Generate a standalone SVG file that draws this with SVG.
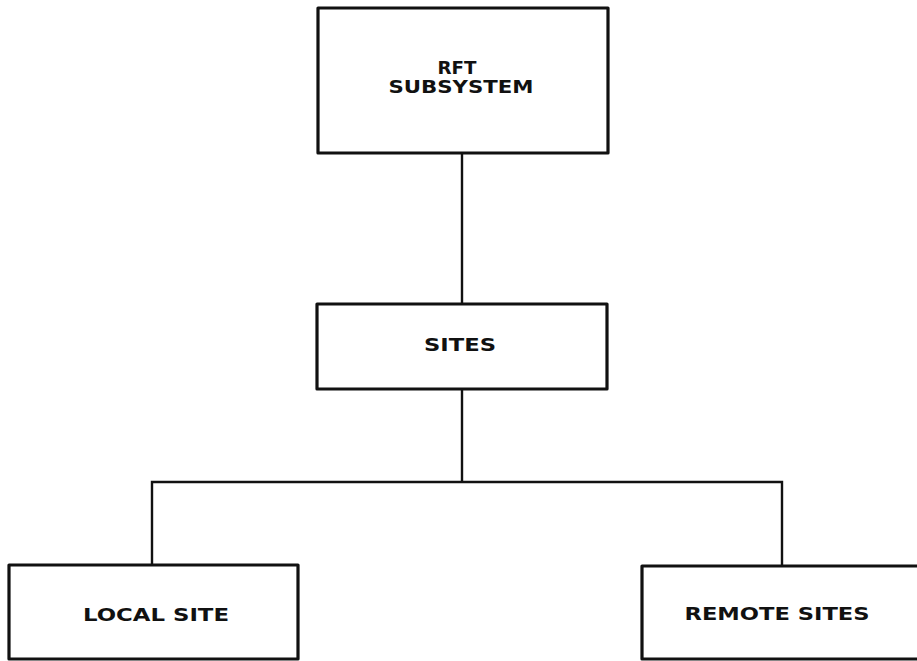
<svg xmlns="http://www.w3.org/2000/svg" width="917" height="661" viewBox="0 0 917 661">
<style>
.box{fill:#fff;stroke:#111;stroke-width:3.2;stroke-linejoin:round}
.conn{fill:none;stroke:#111;stroke-width:2.4}
.lbl{font-family:"DejaVu Sans","Liberation Sans",sans-serif;font-size:17px;font-weight:bold;fill:#111;text-anchor:middle}
</style>
<rect width="917" height="661" fill="#fff"/>
<g id="connectors">
<line class="conn" x1="462" y1="153" x2="462" y2="305"/>
<line class="conn" x1="462" y1="389" x2="462" y2="482"/>
<polyline class="conn" points="152,566 152,482 782,482 782,566"/>
</g>
<g id="rft">
<rect class="box" x="318" y="8" width="290" height="145"/>
<text class="lbl" x="457" y="74" textLength="39" lengthAdjust="spacingAndGlyphs">RFT</text>
<text class="lbl" x="461" y="93" textLength="145" lengthAdjust="spacingAndGlyphs">SUBSYSTEM</text>
</g>
<g id="sites">
<rect class="box" x="317" y="304" width="290" height="85"/>
<text class="lbl" x="460" y="351" textLength="72" lengthAdjust="spacingAndGlyphs">SITES</text>
</g>
<g id="local">
<rect class="box" x="9" y="565" width="289" height="94"/>
<text class="lbl" x="156" y="621" textLength="146" lengthAdjust="spacingAndGlyphs">LOCAL SITE</text>
</g>
<g id="remote">
<rect class="box" x="642" y="566" width="290" height="93"/>
<text class="lbl" x="777" y="620" textLength="185" lengthAdjust="spacingAndGlyphs">REMOTE SITES</text>
</g>
</svg>
